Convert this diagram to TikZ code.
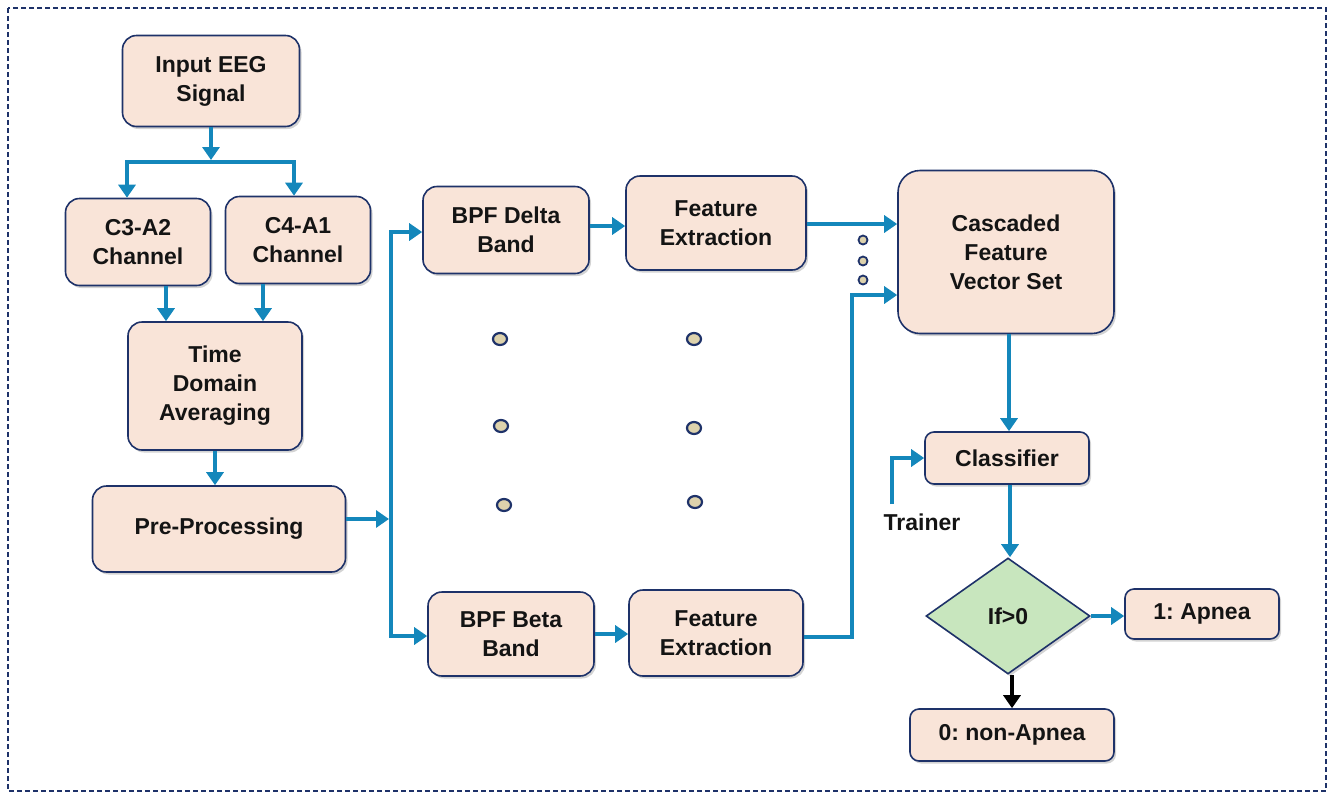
\documentclass[tikz,border=0pt]{standalone}
\usepackage{fontspec}
\setmainfont{Liberation Sans}
\usetikzlibrary{shapes.geometric,arrows.meta,shadows,calc}
\definecolor{navy}{RGB}{30,50,105}
\definecolor{peach}{RGB}{249,228,216}
\definecolor{flowc}{RGB}{20,135,187}
\definecolor{dia}{RGB}{200,230,190}
\definecolor{dotc}{RGB}{221,210,172}
\definecolor{txt}{RGB}{20,20,20}
\frenchspacing
\begin{document}
\begin{tikzpicture}[x=1pt,y=-1pt,
  box/.style={draw=navy, line width=1.6pt, fill=peach, rounded corners=14pt, align=center,
    font=\bfseries\fontsize{23}{29}\selectfont, text=txt, inner sep=0pt,
    drop shadow={opacity=0.35, shadow xshift=2pt, shadow yshift=-2.5pt}},
  sbox/.style={box, rounded corners=9pt},
  flow/.style={draw=flowc, line width=4pt, -{Triangle[length=13pt,width=17pt]}},
  flowline/.style={draw=flowc, line width=4pt},
  bflow/.style={draw=black, line width=4pt, -{Triangle[length=13pt,width=17pt]}},
  dotn/.style={ellipse, draw=navy, line width=2.2pt, fill=dotc, minimum width=14pt, minimum height=12pt, inner sep=0pt},
  sdot/.style={ellipse, draw=navy, line width=1.8pt, fill=dotc, minimum width=9pt, minimum height=9pt, inner sep=0pt},
  lbl/.style={font=\bfseries\fontsize{23}{29}\selectfont, text=txt}
]
\useasboundingbox (0,0) rectangle (1334,796);
\draw[navy, line width=1.2pt, dash pattern=on 5pt off 3pt] (8,8) rectangle (1326,791);

\node[box, minimum width=177pt, minimum height=91pt] (in) at (211,81) {Input EEG\\Signal};
\node[box, minimum width=145pt, minimum height=87pt] (c3) at (138,242) {C3-A2\\Channel};
\node[box, minimum width=145pt, minimum height=87pt] (c4) at (298,240) {C4-A1\\Channel};
\node[box, minimum width=174pt, minimum height=128pt] (tda) at (215,386) {Time\\Domain\\Averaging};
\node[box, minimum width=253pt, minimum height=86pt] (pre) at (219,529) {Pre-Processing};
\node[box, minimum width=166pt, minimum height=87pt] (d1) at (506,230) {BPF Delta\\Band};
\node[box, minimum width=180pt, minimum height=94pt] (fe1) at (716,223) {Feature\\Extraction};
\node[box, minimum width=166pt, minimum height=84pt] (b1) at (511,634) {BPF Beta\\Band};
\node[box, minimum width=174pt, minimum height=86pt] (fe2) at (716,633) {Feature\\Extraction};
\node[box, minimum width=216pt, minimum height=163pt, rounded corners=22pt] (cas) at (1006,252) {Cascaded\\Feature\\Vector Set};
\node[sbox, minimum width=164pt, minimum height=52pt] (cls) at (1007,458) {Classifier};
\node[lbl] (tr) at (922,522) {Trainer};
\node[diamond, draw=navy, line width=1.6pt, fill=dia, minimum width=164pt, minimum height=116pt, inner sep=0pt,
  font=\bfseries\fontsize{23}{29}\selectfont, text=txt,
  drop shadow={opacity=0.35, shadow xshift=2pt, shadow yshift=-2.5pt}] (dia) at (1008,616) {If>0};
\node[sbox, minimum width=154pt, minimum height=50pt] (ap) at (1202,614) {1: Apnea};
\node[sbox, minimum width=204pt, minimum height=52pt] (non) at (1012,735) {0: non-Apnea};

% dots
\node[dotn] (m1) at (500,339) {};
\node[dotn] (m2) at (501,426) {};
\node[dotn] (m3) at (504,505) {};
\node[dotn] (m4) at (694,339) {};
\node[dotn] (m5) at (694,428) {};
\node[dotn] (m6) at (695,502) {};
\node[sdot] (r1) at (863,240) {};
\node[sdot] (r2) at (863,261) {};
\node[sdot] (r3) at (863,280) {};

% connectors
\coordinate (j1) at (211,162);
\draw[flowline] ([xshift=-84pt]j1) -- ([xshift=83pt]j1);
\draw[flow] (in.south) -- ([yshift=2pt]j1);
\draw[flow] ([xshift=-84pt,yshift=2pt]j1) -- ([xshift=-84pt]j1 |- c3.north);
\draw[flow] ([xshift=83pt,yshift=2pt]j1) -- ([xshift=83pt]j1 |- c4.north);
\draw[flow] ([xshift=28pt]c3.south) -- ([xshift=28pt]c3.south |- tda.north);
\draw[flow] ([xshift=-35pt]c4.south) -- ([xshift=-35pt]c4.south |- tda.north);
\draw[flow] (tda.south) -- (tda.south |- pre.north);

\coordinate (bt) at (391,232);
\coordinate (bb) at (391,636);
\draw[flowline] ([yshift=2pt]bt) -- ([yshift=-2pt]bb);
\draw[flow] ([yshift=10pt]pre.east) -- ([yshift=10pt,xshift=-2pt]pre.east -| bt);
\draw[flow] ([xshift=-2pt]bt) -- (bt -| d1.west);
\draw[flow] ([xshift=-2pt]bb) -- (bb -| b1.west);
\draw[flow] ([yshift=4pt]d1.east) -- ([yshift=4pt]d1.east -| fe1.west);
\draw[flow] (b1.east) -- (b1.east -| fe2.west);
\draw[flow] ([yshift=-1pt]fe1.east) -- ([yshift=-1pt]fe1.east -| cas.west);
\coordinate (k) at (852,295);
\draw[flowline] ([yshift=-4pt]fe2.east) -| ([yshift=-2pt]k);
\draw[flow] ([xshift=-2pt]k) -- (k -| cas.west);
\draw[flow] ([xshift=3pt]cas.south) -- ([xshift=3pt]cas.south |- cls.north);
\coordinate (tk) at ([xshift=-30pt,yshift=6pt]tr.north);
\draw[flowline] (tk) -- (tk |- cls.west);
\draw[flow] ([xshift=-2pt]tk |- cls.west) -- (cls.west);
\draw[flow] ([xshift=3pt]cls.south) -- ([xshift=3pt]cls.south |- dia.north);
\draw[flow] (dia.east) -- (dia.east -| ap.west);
\draw[bflow] ([xshift=4pt]dia.south) -- ([xshift=4pt]dia.south |- non.north);
\end{tikzpicture}
\end{document}
